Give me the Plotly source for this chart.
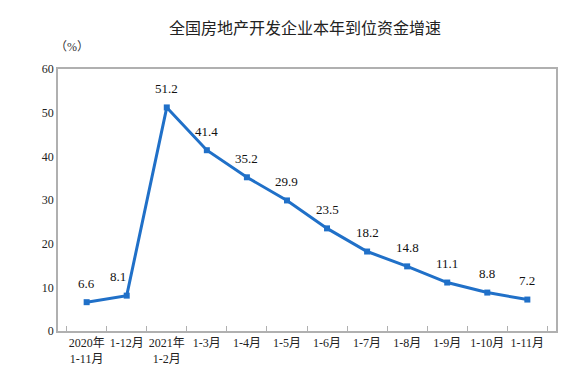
import plotly.graph_objects as go

categories = ["2020年<br>1-11月", "1-12月", "2021年<br>1-2月", "1-3月", "1-4月", "1-5月",
              "1-6月", "1-7月", "1-8月", "1-9月", "1-10月", "1-11月"]
values = [6.6, 8.1, 51.2, 41.4, 35.2, 29.9, 23.5, 18.2, 14.8, 11.1, 8.8, 7.2]
y_ticks = [0, 10, 20, 30, 40, 50, 60]

serif = "Liberation Serif, Times New Roman, Noto Sans CJK SC, serif"

fig = go.Figure()
fig.add_trace(go.Scatter(
    x=categories, y=values, mode="lines+markers",
    line=dict(color="#2070c8", width=3),
    marker=dict(symbol="square", size=6, color="#2070c8"),
    cliponaxis=False,
))

labels = []
for i, (c, v) in enumerate(zip(categories, values)):
    labels.append(dict(x=c, y=v, text=f"{v:.1f}", showarrow=False, yshift=19,
                       xshift=-9 if i == 1 else 0,
                       font=dict(family=serif, size=13, color="#111")))
labels.append(dict(text="（%）", x=-0.01, y=1.085, xref="paper", yref="paper",
                   xanchor="left", yanchor="middle", showarrow=False,
                   font=dict(family=serif, size=12, color="#333")))

fig.update_layout(
    width=579, height=369,
    margin=dict(l=50, r=31, t=61, b=46, autoexpand=False),
    plot_bgcolor="white", paper_bgcolor="white",
    showlegend=False,
    title=dict(text="全国房地产开发企业本年到位资金增速", x=0.513, xanchor="center",
               y=0.946, yanchor="middle", yref="container",
               font=dict(family="Noto Sans CJK SC, sans-serif", size=16, color="#222")),
    annotations=labels,
)

fig.update_xaxes(
    type="category", showline=True, linecolor="#b0b0b0", linewidth=1.5, mirror=True,
    ticks="inside", tickson="boundaries", ticklen=5, tickcolor="#b0b0b0",
    showgrid=False, tickangle=0, automargin=False,
    tickfont=dict(family=serif, size=12, color="#222"),
)
fig.update_yaxes(
    range=[0, 60], tickvals=y_ticks, showline=True, linecolor="#b0b0b0", linewidth=1.5,
    mirror=True, showgrid=False, zeroline=False, ticks="", automargin=False,
    tickfont=dict(family=serif, size=12, color="#222"),
)

fig.write_html("out.html")
